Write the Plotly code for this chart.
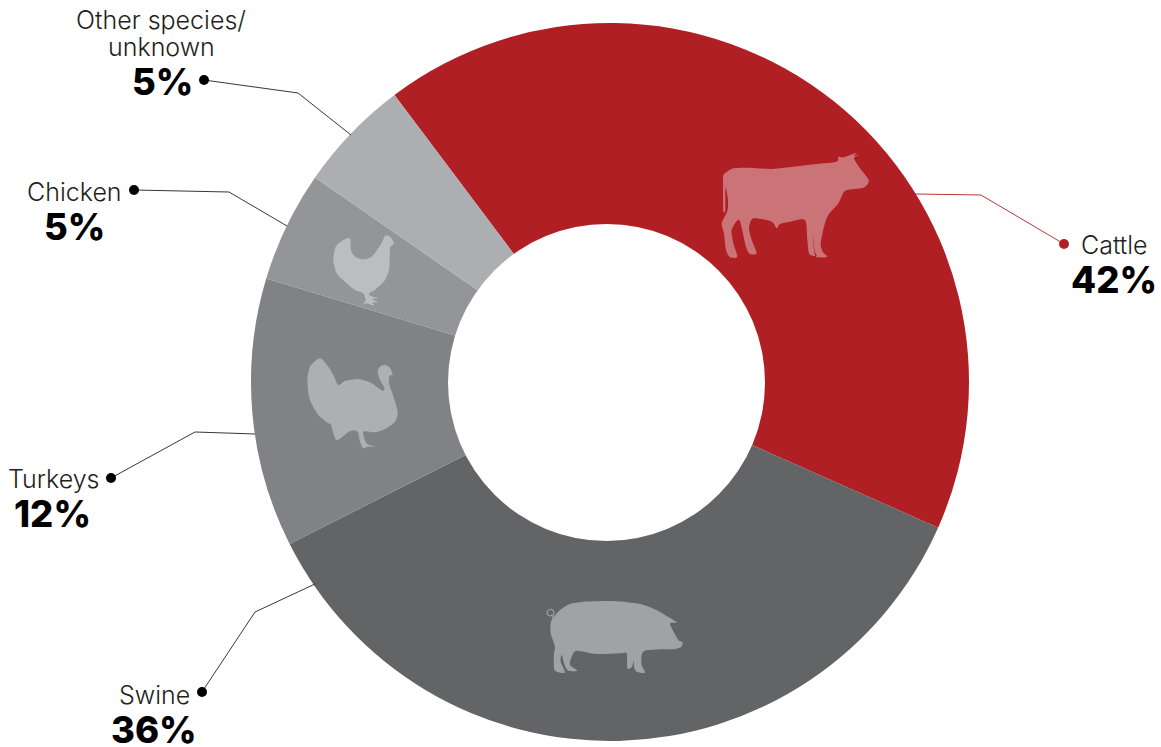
import plotly.graph_objects as go

categories = ["Cattle", "Swine", "Turkeys", "Chicken", "Other species/<br>unknown"]
values = [41.9, 35.9, 12.1, 5.0, 5.1]
slice_colors = ["#AF1F24", "#636466", "#808285", "#939598", "#ADAEB1"]

W, H = 1161, 747
CX, CY, R = 610, 382, 359
HOLE_X, HOLE_Y, HOLE_R = 606.5, 382.5, 158.5
FONT = "Inter"
NAME_LINE_GAP = 27


def px(x):
    return x / W


def py(y):
    return 1 - y / H


def path(points, ox, oy, scale=1 / 3, close=True, smooth=True):
    P = [(ox + x * scale, oy + y * scale) for x, y in points]
    n = len(P)
    d = f"M{px(P[0][0]):.5f},{py(P[0][1]):.5f}"
    segs = n if close else n - 1
    k = 1 / 8
    for i in range(segs):
        p0 = P[(i - 1) % n] if (close or i > 0) else P[i]
        p1 = P[i]
        p2 = P[(i + 1) % n]
        p3 = P[(i + 2) % n] if (close or i + 2 < n) else p2
        if smooth:
            c1 = (p1[0] + (p2[0] - p0[0]) * k, p1[1] + (p2[1] - p0[1]) * k)
            c2 = (p2[0] - (p3[0] - p1[0]) * k, p2[1] - (p3[1] - p1[1]) * k)
            d += (f" C{px(c1[0]):.5f},{py(c1[1]):.5f} {px(c2[0]):.5f},{py(c2[1]):.5f}"
                  f" {px(p2[0]):.5f},{py(p2[1]):.5f}")
        else:
            d += f" L{px(p2[0]):.5f},{py(p2[1]):.5f}"
    return d + (" Z" if close else "")


cow = [(75,100),(100,85),(150,83),(210,87),(280,80),(350,72),(410,65),(415,50),(430,52),(470,38),(462,47),(476,45),(462,55),
       (480,85),(505,118),(503,132),(490,143),(455,148),(432,155),(415,190),(385,225),(372,260),(362,310),(368,335),(382,350),
       (360,352),(345,345),(338,280),(345,335),(350,348),(328,342),(322,300),(315,240),(270,245),(240,252),(230,265),(215,245),
       (160,235),(147,265),(155,300),(170,340),(150,342),(138,320),(118,240),(95,270),(100,310),(112,350),(90,352),(78,330),
       (72,280),(65,250),(82,213),(84,180),(77,142),(76,180),(76,212),(70,212),(69,130),(70,105)]
pig = [(68,85),(90,60),(120,42),(160,35),(250,33),(330,42),(380,60),(405,75),(440,97),(420,100),(428,120),(445,150),(458,158),
       (452,172),(430,178),(395,178),(345,182),(335,195),(335,225),(345,248),(320,245),(312,230),(312,212),(305,232),(292,235),
       (290,190),(270,190),(200,192),(140,182),(125,200),(120,225),(142,242),(115,242),(105,228),(95,195),(92,215),(105,248),
       (80,245),(72,235),(72,190),(75,170),(62,130),(62,100)]
pig_tail = [(68,85),(70,74),(72,66),(64,58),(54,62),(52,72),(60,78),(66,74)]
chicken = [(165,40),(168,75),(180,95),(205,103),(230,95),(250,70),(262,50),(270,32),(285,35),(297,55),(285,70),(283,130),
           (270,165),(240,195),(222,205),(225,212),(250,220),(232,222),(248,232),(232,232),(238,242),(215,235),(205,238),
           (212,225),(205,205),(180,195),(150,170),(125,145),(115,105),(122,65),(145,45)]
turkey = [(75,400),(100,425),(115,450),(130,480),(150,468),(190,462),(225,472),(262,497),(268,488),(255,465),(248,440),(255,425),(270,420),
          (285,428),(293,450),(284,452),(282,475),(292,505),(308,560),(300,590),(270,612),(240,622),(205,620),(215,655),(240,665),(218,665),
          (205,670),(195,650),(188,620),(165,618),(125,645),(108,600),(100,595),(70,570),(45,525),(37,470),(45,425)]

leaders = [
    ([(915,194),(981,195),(1064,244)], "#AF1F24"),
    ([(315,584),(255,612),(202,692)], "#231F20"),
    ([(255,434),(195,432),(111,478)], "#231F20"),
    ([(287,226),(229,192),(134,190)], "#231F20"),
    ([(351,135),(298,93),(204,80)], "#231F20"),
]

shapes = [dict(type="circle", xref="paper", yref="paper", layer="above", fillcolor="white", line=dict(width=0),
               x0=px(HOLE_X - HOLE_R), x1=px(HOLE_X + HOLE_R), y0=py(HOLE_Y + HOLE_R), y1=py(HOLE_Y - HOLE_R))]
for pts, col, ox, oy in [(cow, "#CB7478", 700, 140), (pig, "#A1A2A4", 530, 590),
                         (chicken, "#BCBDBF", 295, 225), (turkey, "#ADAFB1", 295, 225)]:
    shapes.append(dict(type="path", xref="paper", yref="paper", path=path(pts, ox, oy),
                       fillcolor=col, line=dict(width=0), layer="above"))
shapes.append(dict(type="path", xref="paper", yref="paper", path=path(pig_tail, 530, 590, close=False),
                   line=dict(color="#A1A2A4", width=1.2), layer="above"))
for pts, col in leaders:
    shapes.append(dict(type="path", xref="paper", yref="paper", path=path(pts, 0, 0, scale=1, close=False, smooth=False),
                       line=dict(color=col, width=0.9), layer="above"))
    x, y = pts[-1]
    shapes.append(dict(type="circle", xref="paper", yref="paper", x0=px(x - 5), x1=px(x + 5), y0=py(y + 5), y1=py(y - 5),
                       fillcolor="#AF1F24" if col != "#231F20" else "#000000", line=dict(width=0), layer="above"))

# name centre x, first name line centre y, percent centre x, percent centre y
placement = [
    (1114, 245, 1114, 280),
    (154, 695, 154, 730),
    (53, 479, 52.5, 514),
    (74.5, 192, 74.5, 227),
    (161, 20, 162, 82),
]

annotations = []
for name, v, (lx, ly, vx, vy) in zip(categories, values, placement):
    for i, line in enumerate(name.split("<br>")):
        annotations.append(dict(text=line, x=px(lx), y=py(ly + i * NAME_LINE_GAP), xref="paper", yref="paper",
                                showarrow=False, xanchor="center", yanchor="middle", align="center",
                                font=dict(family=FONT, size=25, color="#231F20", weight=300)))
    annotations.append(dict(text=f"{v:.0f}%", x=px(vx), y=py(vy), xref="paper", yref="paper", showarrow=False,
                            xanchor="center", yanchor="middle", align="center",
                            font=dict(family=FONT, size=36.5, color="#000000", weight=800)))

fig = go.Figure(go.Pie(
    labels=categories, values=values, hole=0.4, sort=False, direction="clockwise", rotation=323.1,
    marker=dict(colors=slice_colors, line=dict(width=0)), textinfo="none", hoverinfo="none",
    domain=dict(x=[px(CX - R), px(CX + R)], y=[py(CY + R), py(CY - R)]),
))
fig.update_layout(width=W, height=H, margin=dict(l=0, r=0, t=0, b=0), showlegend=False,
                  paper_bgcolor="white", shapes=shapes, annotations=annotations)
fig.write_html("out.html", config=dict(displayModeBar=False),
               post_script="document.body.style.margin='0';document.documentElement.style.overflow='hidden';")
